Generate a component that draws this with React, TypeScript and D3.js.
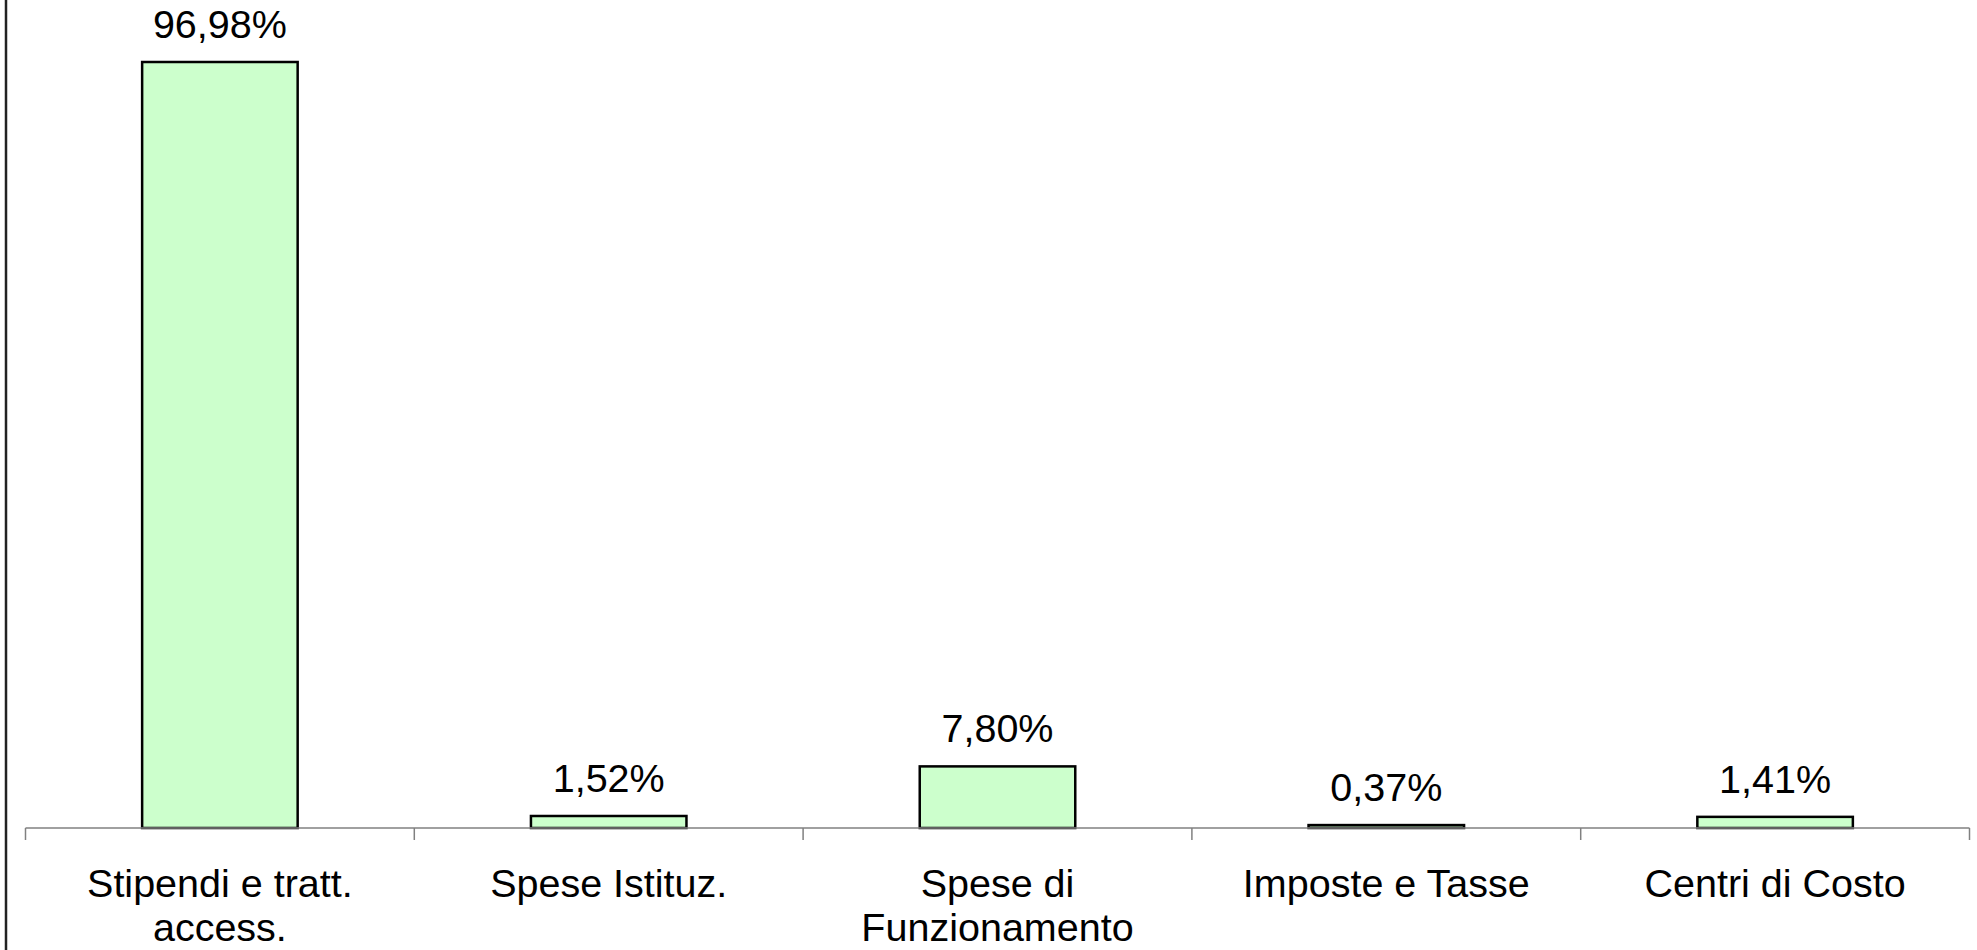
import { useEffect, useRef } from 'react';
import * as d3 from 'd3';

const categories = ['Stipendi e tratt.\naccess.', 'Spese Istituz.', 'Spese di\nFunzionamento', 'Imposte e Tasse', 'Centri di Costo'];
const values = [96.98, 1.52, 7.80, 0.37, 1.41];
const valueLabels = ['96,98%', '1,52%', '7,80%', '0,37%', '1,41%'];

const W = 1977;
const H = 950;
const FONT = "Arial, 'Liberation Sans', sans-serif";

export default function App() {
  const ref = useRef<SVGSVGElement>(null);

  useEffect(() => {
    if (!ref.current) return;
    const svg = d3.select(ref.current);
    svg.selectAll('*').remove();

    const baseY = 828;
    const x = d3.scaleBand<number>()
      .domain(d3.range(categories.length))
      .range([25.5, 1969.5])
      .paddingInner(0)
      .paddingOuter(0);
    const y = d3.scaleLinear().domain([0, 96.98]).range([baseY, 62]);

    const barW = x.bandwidth() * 0.4;

    // left axis line
    svg.append('line')
      .attr('x1', 6).attr('x2', 6).attr('y1', 0).attr('y2', H)
      .attr('stroke', '#222').attr('stroke-width', 2.5);

    // bars
    svg.selectAll('rect.bar')
      .data(values)
      .join('rect')
      .attr('class', 'bar')
      .attr('x', (_d, i) => (x(i) as number) + (x.bandwidth() - barW) / 2)
      .attr('y', d => y(d))
      .attr('width', barW)
      .attr('height', d => baseY - y(d))
      .attr('fill', '#CCFFCC')
      .attr('stroke', '#000')
      .attr('stroke-width', 2.5);

    // category axis
    svg.append('line')
      .attr('x1', x.range()[0]).attr('x2', x.range()[1])
      .attr('y1', baseY).attr('y2', baseY)
      .attr('stroke', '#808080').attr('stroke-width', 1.5);

    const ticks = d3.range(categories.length + 1).map(i => x.range()[0] + i * x.step());
    svg.selectAll('line.tick')
      .data(ticks)
      .join('line')
      .attr('class', 'tick')
      .attr('x1', d => d).attr('x2', d => d)
      .attr('y1', baseY).attr('y2', baseY + 12)
      .attr('stroke', '#808080').attr('stroke-width', 1.5);

    // value labels
    svg.selectAll('text.val')
      .data(values)
      .join('text')
      .attr('class', 'val')
      .attr('x', (_d, i) => (x(i) as number) + x.bandwidth() / 2)
      .attr('y', d => y(d) - 24)
      .attr('text-anchor', 'middle')
      .attr('font-family', FONT)
      .attr('font-size', 39.5)
      .attr('fill', '#000')
      .text((_d, i) => valueLabels[i]);

    // category labels
    categories.forEach((c, i) => {
      const t = svg.append('text')
        .attr('x', (x(i) as number) + x.bandwidth() / 2)
        .attr('y', 897)
        .attr('text-anchor', 'middle')
        .attr('font-family', FONT)
        .attr('font-size', 39.5)
        .attr('fill', '#000');
      c.split('\n').forEach((line, j) => {
        t.append('tspan')
          .attr('x', (x(i) as number) + x.bandwidth() / 2)
          .attr('dy', j === 0 ? 0 : 44)
          .text(line);
      });
    });
  }, []);

  return (
    <svg
      ref={ref}
      width={W}
      height={H}
      style={{ position: 'absolute', left: 0, top: 0, background: '#fff' }}
    />
  );
}
